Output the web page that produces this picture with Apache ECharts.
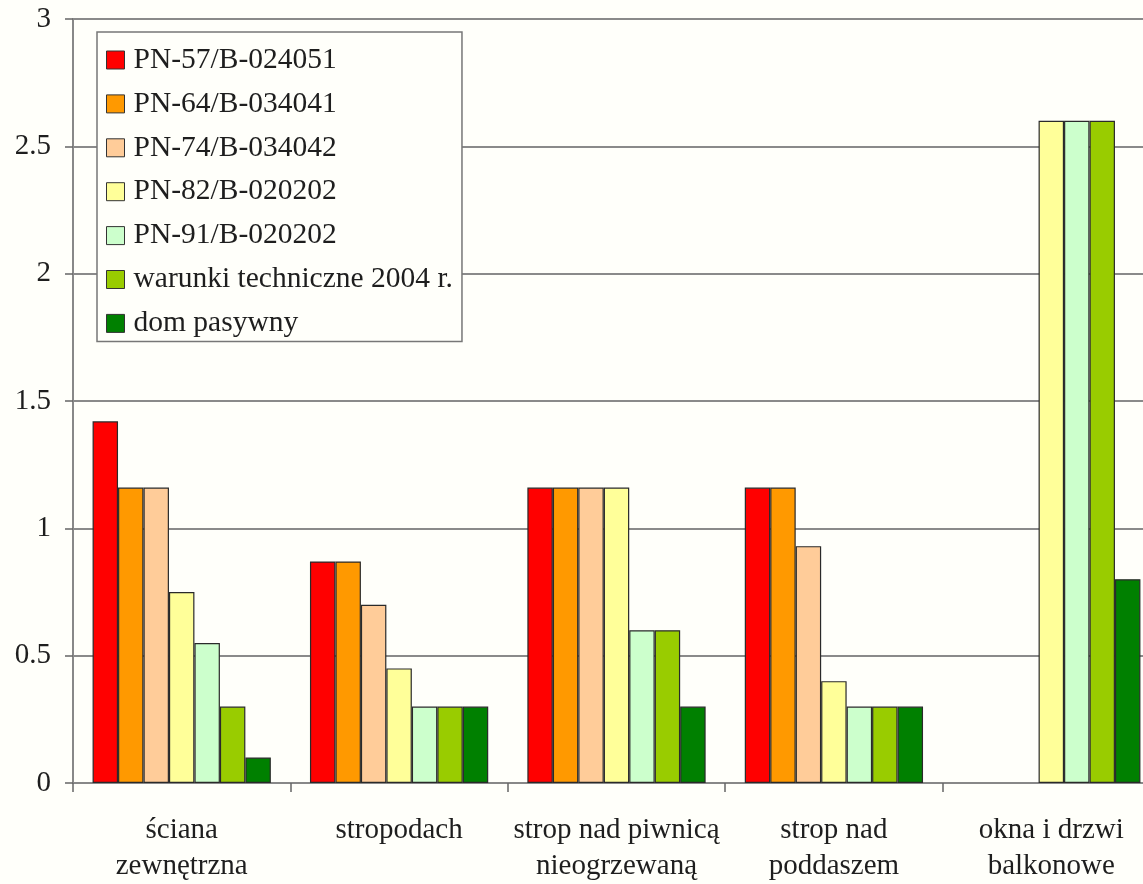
<!DOCTYPE html>
<html>
<head>
<meta charset="utf-8">
<script src="https://cdn.jsdelivr.net/npm/echarts@6/dist/echarts.min.js"></script>
<style>
html,body{margin:0;padding:0;background:#fffffa;overflow:hidden;}
#chart{width:1160px;height:884px;}
</style>
</head>
<body>
<div id="chart"></div>
<script>
const categories = ["ściana\nzewnętrzna", "stropodach", "strop nad piwnicą\nnieogrzewaną", "strop nad\npoddaszem", "okna i drzwi\nbalkonowe"];
const seriesNames = ["PN-57/B-024051", "PN-64/B-034041", "PN-74/B-034042", "PN-82/B-020202", "PN-91/B-020202", "warunki techniczne 2004 r.", "dom pasywny"];
const pn57 = [1.42, 0.87, 1.16, 1.16, null];
const pn64 = [1.16, 0.87, 1.16, 1.16, null];
const pn74 = [1.16, 0.70, 1.16, 0.93, null];
const pn82 = [0.75, 0.45, 1.16, 0.40, 2.6];
const pn91 = [0.55, 0.30, 0.60, 0.30, 2.6];
const wt2004 = [0.30, 0.30, 0.60, 0.30, 2.6];
const pasywny = [0.10, 0.30, 0.30, 0.30, 0.80];
const yTicks = [0, 0.5, 1, 1.5, 2, 2.5, 3];
const colors = ["#ff0000", "#ff9900", "#ffcc99", "#ffff99", "#ccffcc", "#99cc00", "#008000"];

const allData = [pn57, pn64, pn74, pn82, pn91, wt2004, pasywny];
const FONT = '"Liberation Serif", "Times New Roman", serif';

const chart = echarts.init(document.getElementById('chart'));
chart.setOption({
  backgroundColor: '#fffffa',
  animation: false,
  color: colors,
  textStyle: { fontFamily: FONT },
  grid: { left: 73, right: 0, top: 19, bottom: 101, containLabel: false },
  legend: {
    orient: 'vertical',
    left: 97,
    top: 32,
    padding: [13, 9, 3, 9],
    itemGap: 13.9,
    itemWidth: 18,
    itemHeight: 18,
    borderColor: '#777',
    borderWidth: 1.5,
    backgroundColor: '#fffffa',
    icon: 'rect',
    itemStyle: { borderColor: '#333', borderWidth: 1 },
    textStyle: { fontFamily: FONT, fontSize: 29.5, lineHeight: 29, color: '#1e1e1e', padding: [0, 0, 0, 4] },
    data: seriesNames
  },
  xAxis: {
    type: 'category',
    data: categories,
    axisLine: { lineStyle: { color: '#888', width: 2 } },
    axisTick: { show: true, length: 9, lineStyle: { color: '#666', width: 1.5 } },
    axisLabel: { interval: 0, margin: 29, fontFamily: FONT, fontSize: 29, lineHeight: 36, color: '#1e1e1e' },
    splitLine: { show: false }
  },
  yAxis: {
    type: 'value',
    min: yTicks[0],
    max: yTicks[yTicks.length - 1],
    interval: 0.5,
    axisLine: { show: true, lineStyle: { color: '#888', width: 2 } },
    axisTick: { show: true, length: 8, lineStyle: { color: '#666', width: 1.5 } },
    axisLabel: { margin: 22, fontFamily: FONT, fontSize: 29, color: '#1e1e1e' },
    splitLine: { show: true, lineStyle: { color: '#8a8a8a', width: 2 } }
  },
  series: seriesNames.map((name, i) => ({
    name: name,
    type: 'bar',
    data: allData[i],
    barGap: '0%',
    barCategoryGap: '18%',
    itemStyle: { color: colors[i], borderColor: '#2a2a2a', borderWidth: 1.2 }
  }))
});
</script>
</body>
</html>
